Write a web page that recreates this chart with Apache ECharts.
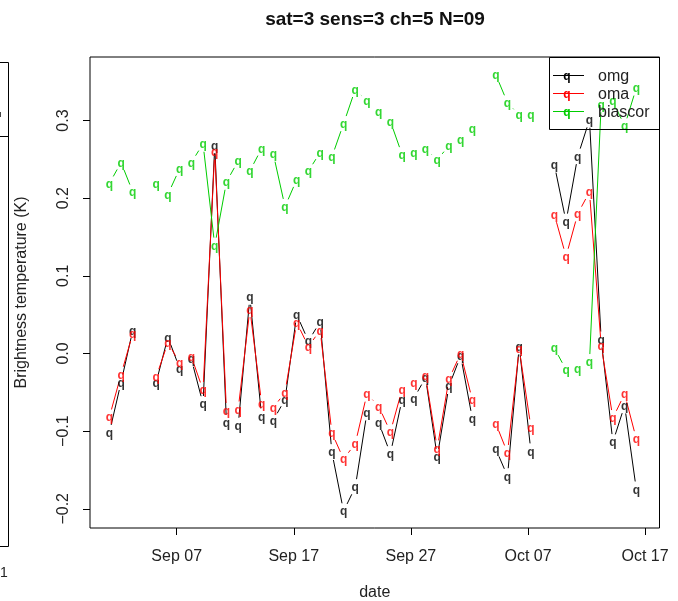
<!DOCTYPE html>
<html><head><meta charset="utf-8">
<script src="https://cdn.jsdelivr.net/npm/echarts@6/dist/echarts.min.js"></script>
<style>html,body{margin:0;padding:0;background:#fff}#c{width:678px;height:601px}</style>
</head><body><div id="c"></div>
<script>
// day of September (values > 30 roll into October); observation time 06:00
const dayOfSep = [1,2,3,4,5,6,7,8,9,10,11,12,13,14,15,16,17,18,19,20,21,22,23,24,25,26,27,28,29,30,31,32,33,34,35,36,37,38,39,40,41,42,43,44,45,46];
const obsHour = 6;
const omg = [-0.102,-0.037,0.030,null,-0.037,0.021,-0.019,-0.007,-0.065,0.268,-0.089,-0.093,0.073,-0.081,-0.086,-0.059,0.050,0.016,0.041,-0.127,-0.203,-0.172,-0.076,-0.089,-0.129,-0.059,-0.058,-0.031,-0.133,-0.042,-0.003,-0.084,null,-0.123,-0.158,0.009,-0.126,null,0.243,0.170,0.254,0.301,0.018,-0.114,-0.067,-0.175];
const oma = [-0.082,-0.027,0.026,null,-0.030,0.014,-0.012,-0.004,-0.047,0.260,-0.074,-0.072,0.057,-0.064,-0.070,-0.050,0.040,0.009,0.030,-0.102,-0.136,-0.116,-0.052,-0.068,-0.101,-0.046,-0.037,-0.029,-0.122,-0.033,0.000,-0.060,null,-0.090,-0.128,0.006,-0.095,null,0.179,0.125,0.180,0.208,0.010,-0.083,-0.052,-0.110];
const biascor = [0.219,0.246,0.208,null,0.219,0.205,0.238,0.246,0.270,0.139,0.221,0.248,0.235,0.264,0.257,0.189,0.224,0.235,0.259,0.253,0.296,0.340,0.325,0.311,0.299,0.256,0.259,0.264,0.249,0.268,0.275,0.289,null,0.359,0.323,0.307,0.307,null,0.007,-0.021,-0.019,-0.011,0.321,0.325,0.293,0.342];
const seriesNames = ['omg','oma','biascor'];
const seriesColors = ['#000000','#FF0000','#00CD00'];
const xTickDays = [7,17,27,37,47];
const xTickLabels = ['Sep 07','Sep 17','Sep 27','Oct 07','Oct 17'];
const yTickValues = [-0.2,-0.1,0.0,0.1,0.2,0.3];
const yTickLabels = ['\u22120.2','\u22120.1','0.0','0.1','0.2','0.3'];
const title = 'sat=3 sens=3 ch=5 N=09';
const xName = 'date';
const yName = 'Brightness temperature (K)';

const DAY = 86400000;
const t = (d, h) => Date.UTC(2019, 8, d, h || 0);
const xs = dayOfSep.map(d => t(d, obsHour));
const xTickVals = xTickDays.map(d => t(d, 0));
const xMin = t(7,0) - 7.404*DAY, xMax = t(7,0) + 41.23*DAY;
const FONT = 'Liberation Sans, Arial, Helvetica, sans-serif';
const GAP = 8;

function segs(vals){
  const out=[];
  for(let i=0;i<vals.length-1;i++){
    if(vals[i]!=null && vals[i+1]!=null) out.push([xs[i],vals[i],xs[i+1],vals[i+1]]);
  }
  return out;
}
function pts(vals){
  const out=[];
  vals.forEach((v,i)=>{ if(v!=null) out.push([xs[i],v]); });
  return out;
}
const allVals=[omg,oma,biascor];
const series=[];
allVals.forEach((vals,k)=>{
  const color=seriesColors[k];
  series.push({
    type:'custom', name:seriesNames[k], silent:true,
    data:segs(vals), encode:{x:[0,2],y:[1,3]},
    renderItem:(params,api)=>{
      const p1=api.coord([api.value(0),api.value(1)]);
      const p2=api.coord([api.value(2),api.value(3)]);
      const dx=p2[0]-p1[0], dy=p2[1]-p1[1];
      const len=Math.sqrt(dx*dx+dy*dy);
      if(len<=2*GAP) return null;
      const ux=dx/len, uy=dy/len;
      return {type:'line',shape:{x1:p1[0]+ux*GAP,y1:p1[1]+uy*GAP,x2:p2[0]-ux*GAP,y2:p2[1]-uy*GAP},
        style:{stroke:color,lineWidth:1}};
    }
  });
  series.push({
    type:'scatter', name:seriesNames[k]+'_pts', silent:true,
    data:pts(vals), symbol:'circle', symbolSize:1,
    itemStyle:{color:'rgba(0,0,0,0)'},
    label:{show:true,position:'inside',formatter:'q',color:color,fontSize:12,fontWeight:'bold',fontFamily:FONT,offset:[0,1]}
  });
});

// legend (drawn as graphics, transparent box)
const legendG=[{type:'rect',shape:{x:549.5,y:57.5,width:110,height:72},style:{fill:'none',stroke:'#000',lineWidth:1},z:100}];
const legY=[75.5,93.5,111.5];
seriesNames.forEach((n,k)=>{
  legendG.push({type:'line',shape:{x1:553,y1:legY[k],x2:584,y2:legY[k]},style:{stroke:seriesColors[k],lineWidth:1},z:100});
  legendG.push({type:'text',x:567,y:legY[k]+1,style:{text:'q',fill:seriesColors[k],font:'bold 12px '+FONT,textAlign:'center',textVerticalAlign:'middle'},z:101});
  legendG.push({type:'text',x:598,y:legY[k]+1.5,style:{text:n,fill:'#222',font:'16px '+FONT,textAlign:'left',textVerticalAlign:'middle'},z:101});
});
// remnant of neighbouring panel at left edge
legendG.push({type:'polyline',shape:{points:[[0,62.5],[8.5,62.5],[8.5,546.5],[0,546.5]]},style:{fill:'none',stroke:'#000',lineWidth:1}});
legendG.push({type:'line',shape:{x1:0,y1:136.5,x2:8.5,y2:136.5},style:{stroke:'#000',lineWidth:1}});
legendG.push({type:'line',shape:{x1:0.5,y1:112,x2:0.5,y2:117},style:{stroke:'#444',lineWidth:1}});
legendG.push({type:'text',x:4,y:573,style:{text:'1',fill:'#222',font:'14px '+FONT,textAlign:'center',textVerticalAlign:'middle'}});

const chart=echarts.init(document.getElementById('c'),null,{renderer:'canvas'});
chart.setOption({
  animation:false,
  backgroundColor:'#fff',
  title:{text:title,left:370,textAlign:'center',top:5,textStyle:{fontFamily:FONT,fontSize:19,fontWeight:'bold',color:'#111'}},
  grid:{left:90,right:18.5,top:57,bottom:73,show:true,borderColor:'#000',borderWidth:1,backgroundColor:'transparent',containLabel:false,outerBoundsMode:'none'},
  xAxis:{type:'value',min:xMin,max:xMax,
    name:xName,nameLocation:'middle',nameGap:57,nameTextStyle:{fontFamily:FONT,fontSize:16,color:'#222'},
    axisLine:{show:false,onZero:false},splitLine:{show:false},
    axisTick:{show:true,inside:false,length:7,customValues:xTickVals,lineStyle:{color:'#000'}},
    axisLabel:{show:true,customValues:xTickVals,margin:21,fontFamily:FONT,fontSize:16,color:'#222',
      formatter:(v)=>{const i=xTickVals.indexOf(v);return i>=0?xTickLabels[i]:'';}}
  },
  yAxis:{type:'value',min:-0.2247,max:0.3818,
    name:yName,nameLocation:'middle',nameGap:60,nameRotate:90,nameTextStyle:{fontFamily:FONT,fontSize:16,color:'#222'},
    axisLine:{show:false,onZero:false},splitLine:{show:false},
    axisTick:{show:true,inside:false,length:7,customValues:yTickValues,lineStyle:{color:'#000'}},
    axisLabel:{show:true,customValues:yTickValues,rotate:90,margin:18,fontFamily:FONT,fontSize:16,color:'#222',
      formatter:(v)=>{let i=-1;yTickValues.forEach((tv,j)=>{if(Math.abs(tv-v)<1e-9)i=j;});return i>=0?yTickLabels[i]:'';}}
  },
  graphic:legendG,
  series:series
});
</script></body></html>
